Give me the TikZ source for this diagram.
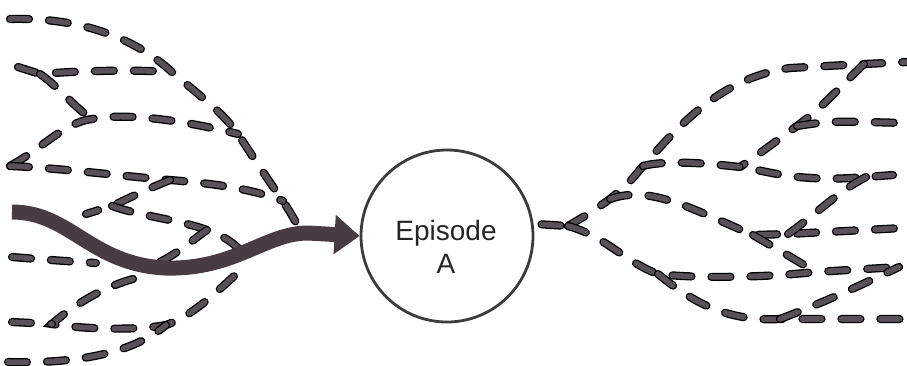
\documentclass[tikz,border=0pt]{standalone}
\usepackage{fontspec}
\setmainfont{Liberation Sans}
\usepackage{xcolor}
\usepackage{tikz}
\usetikzlibrary{arrows.meta}
\definecolor{trailgray}{RGB}{88,82,88}
\definecolor{pathbrown}{RGB}{72,60,66}
\definecolor{ringgray}{RGB}{60,60,60}
\tikzset{
  trail/.style={draw=black,line width=1.3pt,double=trailgray,double distance=5.6pt,line cap=round,dash pattern=on 19pt off 20pt},
  bigarrow/.style={draw=pathbrown,line width=15pt,-{Triangle[length=25pt,width=38pt]}},
  episode/.style={circle,draw=ringgray,line width=2.8pt,minimum size=172pt,inner sep=0pt}
}
\begin{document}
\begin{tikzpicture}[x=1pt,y=-1pt]
\useasboundingbox (0,0) rectangle (907,365);
\node (e) at (447,236) [episode] {};
\node (t) at (446,246.5) [align=center,inner sep=0pt,text=black!85,font=\fontsize{28}{33}\selectfont] {Episode\\A};
\coordinate (l1) at (10,19);
\coordinate (l2) at (18,67);
\coordinate (j2) at (40,74);
\coordinate (j3) at (172,72);
\coordinate (j4) at (92,119);
\coordinate (j5) at (238,134);
\coordinate (j6) at (10,166);
\coordinate (j7) at (283,201);
\coordinate (j8) at (170,180);
\coordinate (j1) at (298,226);
\coordinate (j9) at (112,206);
\coordinate (l5) at (86,214);
\coordinate (j11) at (207,230);
\coordinate (j10) at (246,257);
\coordinate (j12) at (160,262);
\coordinate (l8) at (12,257);
\coordinate (j13) at (96,263);
\coordinate (j14) at (133,279);
\coordinate (j15) at (52,324);
\coordinate (j17) at (166,325);
\coordinate (j16) at (240,271);
\coordinate (l9) at (12,322);
\coordinate (l10) at (8,362);
\coordinate (ts) at (12,212);
\coordinate (tm) at (165,268);
\coordinate (tk) at (308,233);
\draw[trail] (l1) .. controls (80,17) and (135,38) .. (j3) .. controls (205,100) and (222,112) .. (j5) .. controls (255,160) and (268,180) .. (j7) .. controls (290,212) .. (j1);
\draw[trail] (l2) -- (j2) .. controls (90,70) and (140,70) .. (j3);
\draw[trail] (j2) .. controls (60,88) and (75,108) .. (j4);
\draw[trail] (j6) .. controls (40,150) and (65,122) .. (j4) .. controls (130,112) and (190,122) .. (j5);
\draw[trail] (j6) .. controls (60,168) and (120,176) .. (j8) .. controls (220,184) and (255,190) .. (j7);
\draw[trail] (j8) .. controls (145,190) and (125,200) .. (j9) -- (l5);
\draw[trail] (j9) .. controls (140,216) and (180,220) .. (j11) .. controls (225,236) and (238,246) .. (j10);
\draw[trail] (j12) .. controls (180,252) and (195,238) .. (j11);
\draw[trail] (l8) .. controls (50,260) .. (j13);
\draw[trail] (j14) .. controls (100,288) and (70,308) .. (j15) .. controls (90,330) and (140,330) .. (j17) .. controls (195,315) and (220,288) .. (j16);
\draw[trail] (l9) -- (j15);
\draw[trail] (l10) .. controls (80,364) and (135,352) .. (j17);
\draw[bigarrow] (ts) .. controls (70,212) and (90,264) .. (tm) .. controls (235,270) and (265,233) .. (tk) -- (e.west);
\coordinate (r0) at (568,226);
\coordinate (r2) at (610,199);
\coordinate (r3) at (643,166);
\coordinate (r5) at (790,68);
\coordinate (r4) at (864,64);
\coordinate (r1) at (907,62);
\coordinate (r6) at (797,126);
\coordinate (r7) at (740,167);
\coordinate (r8) at (866,177);
\coordinate (q3) at (893,175);
\coordinate (q4) at (905,123);
\coordinate (r9) at (753,235);
\coordinate (r10) at (788,234);
\coordinate (q5) at (903,228);
\coordinate (r12) at (658,274);
\coordinate (r11) at (815,272);
\coordinate (r13) at (899,267);
\coordinate (r14) at (780,319);
\coordinate (q9) at (907,319);
\draw[trail,shorten <=8pt] (e.8) -- (r0);
\draw[trail] (r0) .. controls (590,213) .. (r2) .. controls (628,184) .. (r3) .. controls (680,125) and (720,78) .. (r5) -- (r4) -- (r1);
\draw[trail] (r4) .. controls (845,82) and (822,108) .. (r6) .. controls (775,142) and (755,157) .. (r7);
\draw[trail] (r3) .. controls (665,160) and (705,163) .. (r7) .. controls (765,170) and (795,183) .. (r8) -- (q3);
\draw[trail] (r6) .. controls (830,121) .. (q4);
\draw[trail] (r2) .. controls (650,185) and (690,208) .. (r9) -- (r10) -- (q5);
\draw[trail] (r10) .. controls (815,215) and (840,190) .. (r8);
\draw[trail] (r0) .. controls (605,236) and (625,262) .. (r12) .. controls (700,279) and (770,277) .. (r11) -- (r13);
\draw[trail] (r9) .. controls (775,248) and (800,262) .. (r11);
\draw[trail] (r12) .. controls (690,300) and (725,322) .. (r14) -- (q9);
\draw[trail] (r14) .. controls (830,300) and (865,283) .. (r13);
\end{tikzpicture}
\end{document}
